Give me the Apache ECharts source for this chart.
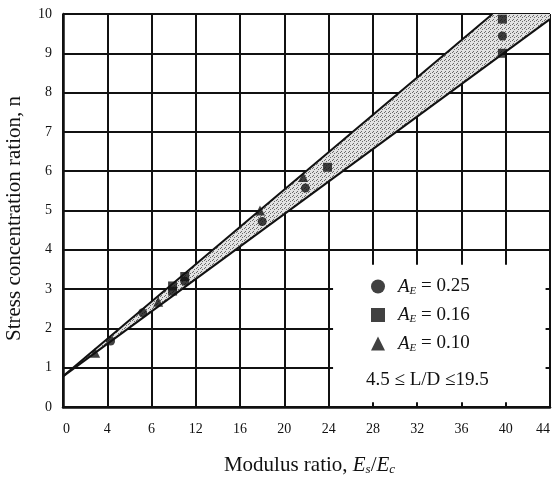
<!DOCTYPE html>
<html>
<head>
<meta charset="utf-8">
<script src="https://cdn.jsdelivr.net/npm/echarts@6/dist/echarts.min.js"></script>
<style>
html,body{margin:0;padding:0;background:#fff;}
#chart{width:553px;height:479px;}
</style>
</head>
<body>
<div id="chart"></div>
<script>
// ---- data ----
var xTickValues = [0, 4, 8, 12, 16, 20, 24, 28, 32, 36, 40, 44];
var xTickLabels = ['0', '4', '6', '12', '16', '20', '24', '28', '32', '36', '40', '44'];
var yTickLabels = ['0', '1', '2', '3', '4', '5', '6', '7', '8', '9', '10'];

var seriesNames = ['A_E = 0.25', 'A_E = 0.16', 'A_E = 0.10'];
var ae025 = [[4.3, 1.68], [7.2, 2.4], [11.0, 3.2], [18.0, 4.72], [21.9, 5.57], [39.7, 9.44]];
var ae016 = [[9.9, 2.95], [9.9, 3.08], [11.0, 3.32], [23.9, 6.1], [39.7, 9.87], [39.7, 9.0]];
var ae010 = [[2.9, 1.38], [8.6, 2.68], [17.8, 5.0], [21.7, 5.85]];

var bandUpper = [[0, 0.78], [38.8, 10]];
var bandLower = [[0, 0.78], [44, 9.87]];
var bandPolygon = [[0, 0.78], [38.8, 10], [44, 10], [44, 9.87]];
var legendBox = [[24.4, 0.12], [43.6, 3.62]];
var noteText = '4.5 \u2264 L/D \u226419.5';

// ---- stipple pattern for the band ----
function makeStipple() {
  var c = document.createElement('canvas');
  c.width = 4; c.height = 4;
  var g = c.getContext('2d');
  g.fillStyle = '#e2e2e2';
  g.fillRect(0, 0, 4, 4);
  g.fillStyle = '#6a6a6a';
  g.fillRect(0, 0, 1, 1);
  g.fillRect(2, 1, 1, 1);
  g.fillRect(1, 3, 1, 1);
  return c;
}
var stipple = makeStipple();

// ---- chart ----
var chart = echarts.init(document.getElementById('chart'), null, {renderer: 'canvas'});
var serif = '"Liberation Serif", "DejaVu Serif", serif';
var black = '#111';

var richName = {
  it: {fontFamily: serif, fontStyle: 'italic', fontSize: 21, color: black},
  sub: {fontFamily: serif, fontStyle: 'italic', fontSize: 13, color: black, padding: [9, 0, 0, 0]},
  n: {fontFamily: serif, fontSize: 21, color: black}
};
var richLegend = {
  it: {fontFamily: serif, fontStyle: 'italic', fontSize: 19, color: black},
  sub: {fontFamily: serif, fontStyle: 'italic', fontSize: 11, color: black, padding: [9, 0, 0, 0]},
  n: {fontFamily: serif, fontSize: 19, color: black}
};

function legendFmt(name) {
  var v = name.split('= ')[1];
  return '{it|A}{sub|E}{n| = ' + v + '}';
}

var markerSeries = [
  {name: seriesNames[0], data: ae025, symbol: 'circle', symbolSize: 9},
  {name: seriesNames[1], data: ae016, symbol: 'rect', symbolSize: 9},
  {name: seriesNames[2], data: ae010, symbol: 'triangle', symbolSize: 10}
].map(function (s) {
  return {
    name: s.name, type: 'scatter', data: s.data, symbol: s.symbol, symbolSize: s.symbolSize,
    itemStyle: {color: black}, z: 5, silent: true
  };
});

var option = {
  animation: false,
  backgroundColor: '#fff',
  grid: {left: 63, right: 3, top: 14, bottom: 72, containLabel: false, outerBoundsMode: 'none'},
  xAxis: {
    type: 'value', min: 0, max: 44, interval: 4,
    axisLine: {show: true, onZero: false, lineStyle: {color: black, width: 2.5}},
    axisTick: {show: false},
    splitLine: {show: true, lineStyle: {color: black, width: 2}},
    axisLabel: {
      color: black, fontFamily: serif, fontSize: 14, margin: 15,
      alignMinLabel: 'left', alignMaxLabel: 'right',
      formatter: function (v) { var i = xTickValues.indexOf(v); return i >= 0 ? xTickLabels[i] : ''; }
    },
    name: '{n|Modulus ratio, }{it|E}{sub|s}{n|/}{it|E}{sub|c}',
    nameLocation: 'middle', nameGap: 47,
    nameTextStyle: {rich: richName, padding: [0, 0, 0, 6]}
  },
  yAxis: {
    type: 'value', min: 0, max: 10, interval: 1,
    axisLine: {show: true, onZero: false, lineStyle: {color: black, width: 2.5}},
    axisTick: {show: false},
    splitLine: {show: true, lineStyle: {color: black, width: 2}},
    axisLabel: {
      color: black, fontFamily: serif, fontSize: 14, margin: 11,
      formatter: function (v) { return yTickLabels[v] !== undefined ? yTickLabels[v] : ''; }
    },
    name: 'Stress concentration ration, n',
    nameLocation: 'middle', nameGap: 38,
    nameTextStyle: {fontFamily: serif, fontSize: 21, color: black, padding: [0, 16, 0, 0]}
  },
  legend: {
    show: true, orient: 'vertical', left: 366, top: 272,
    itemWidth: 14, itemHeight: 14, itemGap: 9,
    data: seriesNames.map(function (n) { return {name: n}; }),
    formatter: legendFmt,
    textStyle: {rich: richLegend, padding: [0, 0, 0, 8]},
    selectedMode: false
  },
  graphic: [{
    type: 'text', left: 366, top: 371, z: 100,
    style: {text: noteText, font: '19px ' + serif, fill: black}
  }],
  series: [
    {
      type: 'custom', name: 'band', silent: true, z: 2,
      data: [0],
      renderItem: function (params, api) {
        var pts = bandPolygon.map(function (p) { return api.coord(p); });
        return {type: 'polygon', shape: {points: pts}, style: {fill: {image: stipple, repeat: 'repeat'}, stroke: null}};
      }
    },
    {
      type: 'custom', name: 'legendbox', silent: true, z: 3,
      data: [0],
      renderItem: function (params, api) {
        var a = api.coord(legendBox[0]), b = api.coord(legendBox[1]);
        return {type: 'rect', shape: {x: a[0], y: b[1], width: b[0] - a[0], height: a[1] - b[1]}, style: {fill: '#fff'}};
      }
    },
    {type: 'line', name: 'upper', data: bandUpper, symbol: 'none', silent: true, z: 4, lineStyle: {color: black, width: 2}},
    {type: 'line', name: 'lower', data: bandLower, symbol: 'none', silent: true, z: 4, lineStyle: {color: black, width: 2}}
  ].concat(markerSeries)
};
chart.setOption(option);
</script>
</body>
</html>
